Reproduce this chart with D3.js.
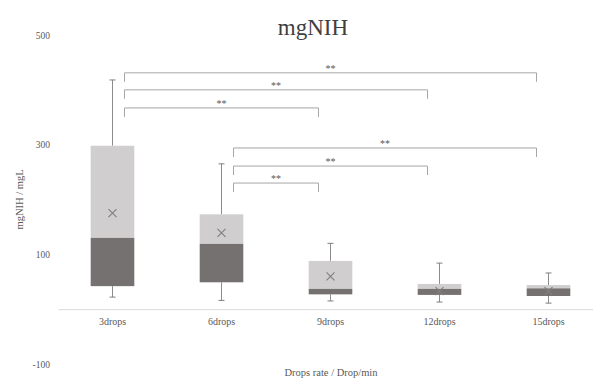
<!DOCTYPE html>
<html>
<head>
<meta charset="utf-8">
<script src="https://cdn.jsdelivr.net/npm/d3@7"></script>
<style>
  body { margin: 0; background: #fff; }
  text { font-family: "Liberation Serif", "Times New Roman", serif; fill: #595959; }
</style>
</head>
<body>
<svg id="chart" width="593" height="379"></svg>
<script>
// chart values
var categories = ["3drops", "6drops", "9drops", "12drops", "15drops"];
var whiskerLow = [22, 16, 15, 13, 11];
var q1 = [42, 49, 27, 26, 24];
var median = [130, 119, 37, 37, 38];
var q3 = [298, 173, 88, 46, 44];
var whiskerHigh = [418, 265, 120, 84, 66];
var means = [175, 139, 60, 33, 33];
var yTicks = [-100, 100, 300, 500];

// significance brackets
var bracketFrom = ["3drops", "3drops", "3drops", "6drops", "6drops", "6drops"];
var bracketTo = ["15drops", "12drops", "9drops", "15drops", "12drops", "9drops"];
var bracketLevel = [431, 400, 367, 294, 261, 230];
var bracketLabel = ["**", "**", "**", "**", "**", "**"];

var svg = d3.select("#chart");

var x = d3.scaleBand()
  .domain(categories)
  .range([58, 603])
  .paddingInner(0.6)
  .paddingOuter(0.3);

var y = d3.scaleLinear()
  .domain([-100, 500])
  .range([364, 35]);

var boxes = categories.map(function(c, i) {
  return { cat: c, lo: whiskerLow[i], q1: q1[i], med: median[i], q3: q3[i], hi: whiskerHigh[i], mean: means[i] };
});

// title
svg.append("text")
  .attr("x", 313)
  .attr("y", 35)
  .attr("text-anchor", "middle")
  .style("font-size", "23px")
  .style("fill", "#404040")
  .text("mgNIH");

// y tick labels (no axis line in the original)
var yAxis = d3.axisLeft(y).tickValues(yTicks).tickFormat(String).tickSize(0).tickPadding(0);
var gy = svg.append("g")
  .attr("transform", "translate(50,0)")
  .call(yAxis);
gy.select(".domain").remove();
gy.selectAll("text")
  .style("font-family", "Liberation Serif, serif")
  .style("font-size", "9.5px")
  .style("fill", "#595959");

// y title
svg.append("text")
  .attr("transform", "translate(23," + (y(200)) + ") rotate(-90)")
  .attr("text-anchor", "middle")
  .style("font-size", "10.5px")
  .text("mgNIH / mgL");

// category axis at zero
var xAxis = d3.axisBottom(x).tickSize(0).tickPadding(9);
var gx = svg.append("g")
  .attr("transform", "translate(0," + y(0) + ")")
  .call(xAxis);
gx.select(".domain")
  .attr("stroke", "#d9d9d9")
  .attr("stroke-width", 1);
gx.selectAll("text")
  .style("font-family", "Liberation Serif, serif")
  .style("font-size", "10px")
  .style("fill", "#595959");

// x title
svg.append("text")
  .attr("x", 331)
  .attr("y", 376)
  .attr("text-anchor", "middle")
  .style("font-size", "10.5px")
  .text("Drops rate / Drop/min");

var g = svg.append("g");
var bw = x.bandwidth();

var box = g.selectAll(".box")
  .data(boxes)
  .enter()
  .append("g")
  .classed("box", true)
  .attr("transform", function(d) { return "translate(" + x(d.cat) + ",0)"; });

// whiskers
box.append("line")
  .attr("x1", bw / 2).attr("x2", bw / 2)
  .attr("y1", function(d) { return y(d.q3); })
  .attr("y2", function(d) { return y(d.hi); })
  .attr("stroke", "#8c8c8c");
box.append("line")
  .attr("x1", bw / 2).attr("x2", bw / 2)
  .attr("y1", function(d) { return y(d.q1); })
  .attr("y2", function(d) { return y(d.lo); })
  .attr("stroke", "#8c8c8c");
box.selectAll(".cap")
  .data(function(d) { return [d.hi, d.lo]; })
  .enter()
  .append("line")
  .classed("cap", true)
  .attr("x1", bw / 2 - 3).attr("x2", bw / 2 + 3)
  .attr("y1", function(v) { return y(v); })
  .attr("y2", function(v) { return y(v); })
  .attr("stroke", "#7f7f7f");

// lower part (q1 - median) dark, upper part (median - q3) light
box.append("rect")
  .attr("x", 0)
  .attr("width", bw)
  .attr("y", function(d) { return y(d.q3); })
  .attr("height", function(d) { return y(d.med) - y(d.q3); })
  .attr("fill", "#d0cece");
box.append("rect")
  .attr("x", 0)
  .attr("width", bw)
  .attr("y", function(d) { return y(d.med); })
  .attr("height", function(d) { return y(d.q1) - y(d.med); })
  .attr("fill", "#767171");

// mean marker
box.append("path")
  .attr("transform", function(d) { return "translate(" + bw / 2 + "," + y(d.mean) + ")"; })
  .attr("d", "M-4,-4L4,4M-4,4L4,-4")
  .attr("stroke", "#7f7f7f")
  .attr("stroke-width", 1.1)
  .attr("fill", "none");

// brackets
var brackets = bracketFrom.map(function(f, i) {
  return { from: f, to: bracketTo[i], level: bracketLevel[i], label: bracketLabel[i] };
});
var drop = 9;
var br = svg.append("g").selectAll(".bracket")
  .data(brackets)
  .enter()
  .append("g")
  .classed("bracket", true);

br.append("path")
  .attr("d", function(d) {
    var x1 = x(d.from) + bw / 2 + 12;
    var x2 = x(d.to) + bw / 2 - 12;
    var yy = y(d.level);
    return "M" + x1 + "," + (yy + drop) + "V" + yy + "H" + x2 + "V" + (yy + drop);
  })
  .attr("fill", "none")
  .attr("stroke", "#a6a6a6")
  .attr("stroke-width", 1);

br.append("text")
  .attr("x", function(d) { return (x(d.from) + x(d.to)) / 2 + bw / 2; })
  .attr("y", function(d) { return y(d.level) - 1; })
  .attr("text-anchor", "middle")
  .style("font-size", "10px")
  .text(function(d) { return d.label; });
</script>
</body>
</html>
